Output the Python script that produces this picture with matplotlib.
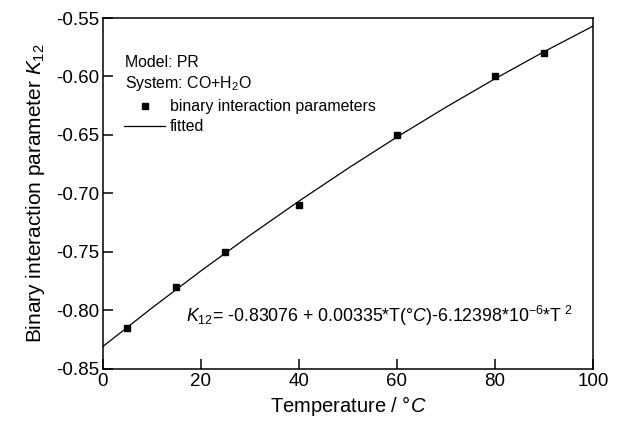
import matplotlib
matplotlib.use("Agg")
import matplotlib.pyplot as plt
from matplotlib.lines import Line2D

plt.rcParams['font.family'] = ['Liberation Sans', 'DejaVu Sans']
plt.rcParams['mathtext.fontset'] = 'custom'
plt.rcParams['mathtext.rm'] = 'Liberation Sans'
plt.rcParams['mathtext.it'] = 'Liberation Sans:italic'

temps = [5, 15, 25, 40, 60, 80, 90]
k12 = [-0.815, -0.78, -0.75, -0.71, -0.65, -0.60, -0.58]

fit_t = [0, 10, 20, 30, 40, 50, 60, 70, 80, 90, 100]
fit_k = [-0.8308, -0.7979, -0.7662, -0.7358, -0.7066, -0.6786, -0.6518, -0.6263, -0.6020, -0.5789, -0.5570]

xticks = [0, 20, 40, 60, 80, 100]
yticks = [-0.85, -0.80, -0.75, -0.70, -0.65, -0.60, -0.55]

fig = plt.figure(figsize=(6.26, 4.24), dpi=100)
ax = fig.add_axes([0.1645, 0.13, 0.7825, 0.8275])

ax.plot(fit_t, fit_k, color='black', lw=0.9)
ax.plot(temps, k12, 's', color='black', ms=5, mec='black')

ax.set_xlim(0, 100)
ax.set_ylim(-0.85, -0.55)
ax.set_xticks(xticks)
ax.set_yticks(yticks)
ax.set_yticklabels([f"{v:.2f}" for v in yticks])
ax.tick_params(direction='in', length=7, width=1.1, labelsize=13.5, top=False, right=False)
ax.tick_params(axis='x', pad=3)
ax.tick_params(axis='y', pad=3)
for s in ax.spines.values():
    s.set_linewidth(1.1)

ax.set_xlabel(r'Temperature / °$\it{C}$', fontsize=14.5, labelpad=3)
ax.set_ylabel(r'Binary interaction parameter $\it{K}_{12}$', fontsize=15, labelpad=6)

fs = 11.4
ax.text(0.045, 0.872, 'Model: PR', transform=ax.transAxes, fontsize=fs, va='center')
ax.text(0.045, 0.813, r'System: CO+H$_2$O', transform=ax.transAxes, fontsize=fs, va='center')
h1 = Line2D([], [], marker='s', ls='none', color='black', ms=5)
h2 = Line2D([], [], color='black', lw=0.9)
leg = ax.legend([h1, h2], ['binary interaction parameters', 'fitted'],
                loc='upper left', bbox_to_anchor=(0.043, 0.768), frameon=False,
                fontsize=fs, handlelength=2.6, handletextpad=0.3, labelspacing=0.3,
                borderaxespad=0, borderpad=0)

ax.text(0.17, 0.15, r'$\it{K}_{12}$= -0.83076 + 0.00335*T(°$\it{C}$)-6.12398*10$^{-6}$*T$^{\ 2}$',
        transform=ax.transAxes, fontsize=12.8, va='center')

fig.savefig('out.png', dpi=100)
